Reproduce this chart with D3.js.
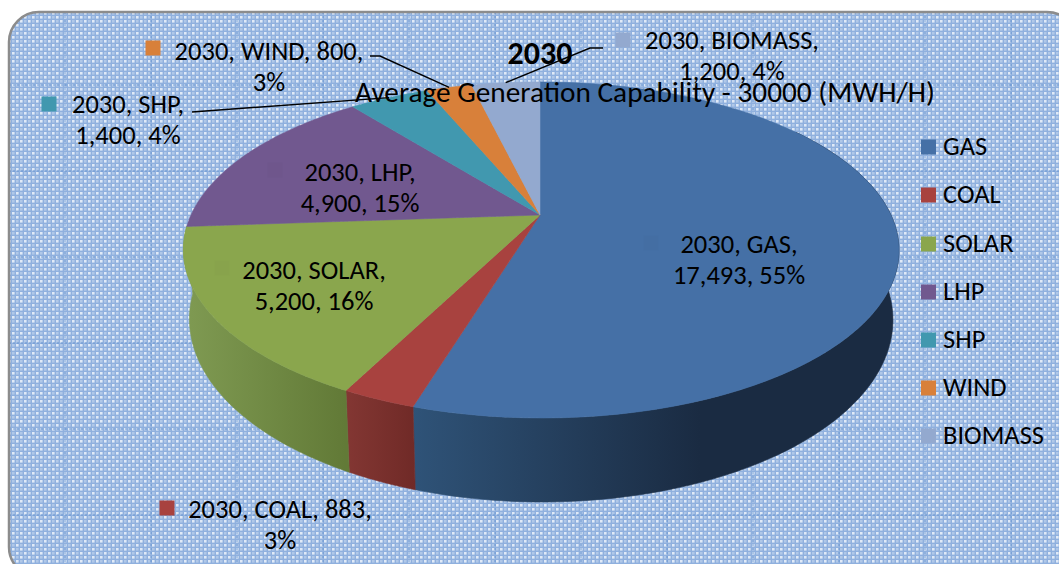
<!DOCTYPE html>
<html><head><meta charset="utf-8">
<style>html,body{margin:0;padding:0;background:#fff;overflow:hidden}svg{display:block}text{font-family:Carlito,Lato,sans-serif;fill:#000}</style>
<script src="https://cdn.jsdelivr.net/npm/d3@7/dist/d3.min.js"></script></head><body>
<svg id="c" width="1059" height="564"></svg>
<script>
const year = 2030;
const categories = ["GAS","COAL","SOLAR","LHP","SHP","WIND","BIOMASS"];
const values = [17493,883,5200,4900,1400,800,1200];
const colors = ["#4570A6","#A8423F","#8AA64D","#71588F","#4198AF","#D8803A","#93A9CF"];
const subtitle = "Average Generation Capability - 30000 (MWH/H)";
// how many label parts (of name/value/percent) sit on the first line
const firstLine = [2,3,2,2,2,3,2];
const labelBoxes = [[739,253],[280,518],[314,279],[360,181],[128,113],[269,60],[732,49]];
const keyBoxes = [[651,243],[167,508],[222,268],[275,170],[49,104],[153,48],[623,40]];
const legendRows = [147,195,244,292,340,388,436];

const svg = d3.select("#c"), defs = svg.append("defs");
const fmt = d3.format(","), total = d3.sum(values);
const order = d3.scaleOrdinal(categories, colors);

// backdrop
const dots = defs.append("pattern").attr("id","dots").attr("width",8).attr("height",8)
  .attr("patternUnits","userSpaceOnUse");
dots.append("rect").attr("width",8).attr("height",8).attr("fill","#8FB0DE");
[[0,0,"#E0EAF7"],[4,4,"#E0EAF7"],[4,0,"#B0C8E8"],[0,4,"#B0C8E8"]].forEach(([x,y,f])=>
  dots.append("rect").attr("x",x).attr("y",y).attr("width",2.6).attr("height",2.6).attr("fill",f));
const frame = {x:9,y:12,w:1068,h:565,r:30};
svg.append("rect").attr("x",frame.x).attr("y",frame.y).attr("width",frame.w).attr("height",frame.h)
  .attr("rx",frame.r).attr("fill","url(#dots)");
const clip = defs.append("clipPath").attr("id","fr");
clip.append("rect").attr("x",frame.x).attr("y",frame.y).attr("width",frame.w).attr("height",frame.h).attr("rx",frame.r);
const grid = svg.append("g").attr("clip-path","url(#fr)");
d3.range(65,1059,86).forEach(x=>grid.append("line").attr("x1",x).attr("x2",x).attr("y1",12).attr("y2",564)
  .attr("stroke","#5E90D0").attr("stroke-opacity",.55).attr("stroke-width",1.5).attr("stroke-dasharray","2 2"));
d3.range(85,564,86).forEach(y=>grid.append("line").attr("y1",y).attr("y2",y).attr("x1",9).attr("x2",1059)
  .attr("stroke","#5E90D0").attr("stroke-opacity",.55).attr("stroke-width",1.5).attr("stroke-dasharray","2 2"));
svg.append("rect").attr("x",frame.x).attr("y",frame.y).attr("width",frame.w).attr("height",frame.h)
  .attr("rx",frame.r).attr("fill","none").attr("stroke","#8C8C8C").attr("stroke-width",2.5);

// perspective projection of the pie disc
const apex = {x:540,y:215}, P = 0.208, A = 350, B = 160.8, D = 66.5, SHR = 0.983, NUDGE = 1, WARP = 0.4*Math.PI/180;
const warp = t => t - WARP*Math.sin(t/2);
const project = t0 => { const t=warp(t0), u=Math.sin(t), v=-Math.cos(t), k=1-P*v;
  return [apex.x+A*u/k+NUDGE*(1+v), apex.y+B*v/k]; };
const projectBase = t0 => { const t=warp(t0), u=Math.sin(t), v=-Math.cos(t), k=1-P*v;
  return [apex.x+SHR*A*u/k+NUDGE*(1+v), apex.y+(B*v+D)/k]; };
const arcs = d3.pie().sort(null).value(d=>d)(values);
const samples = (a,b) => d3.range(0,81).map(i=>a+(b-a)*i/80);
const line = d3.line();

// side wall
const rad = d=>d*Math.PI/180;
const sides = [
  {i:0,from:rad(55),stops:[[412,"#2F5378"],[700,"#1A2B42"]]},
  {i:1,from:null,stops:[[345,"#833733"],[415,"#702A27"]]},
  {i:2,from:null,stops:[[186,"#7F9A52"],[345,"#627A37"]]}
];
sides.forEach(s=>{
  const a=arcs[s.i], t0=s.from===null?a.startAngle:s.from, ts=samples(t0,a.endAngle);
  const g=defs.append("linearGradient").attr("id","side"+s.i).attr("gradientUnits","userSpaceOnUse")
    .attr("x1",s.stops[0][0]).attr("x2",s.stops[1][0]).attr("y1",0).attr("y2",0);
  s.stops.forEach((st,j)=>g.append("stop").attr("offset",j).attr("stop-color",st[1]));
  svg.append("path").attr("d",line(ts.map(t=>project(t)).concat(ts.slice().reverse().map(projectBase)))+"Z")
    .attr("fill",`url(#side${s.i})`).attr("stroke",`url(#side${s.i})`).attr("stroke-width",.6);
});

// top face
svg.append("g").selectAll("path").data(arcs).join("path")
  .attr("d",a=>line([[apex.x,apex.y]].concat(samples(a.startAngle,a.endAngle).map(t=>project(t))))+"Z")
  .attr("fill",(a,i)=>order(categories[i])).attr("stroke",(a,i)=>order(categories[i])).attr("stroke-width",.5);

// key squares beside labels
const key = (x,y,f)=>svg.append("rect").attr("x",x-7.5).attr("y",y-7.5).attr("width",15).attr("height",15).attr("fill",f);
categories.forEach((c,i)=>{
  const f = (i===0||i===2||i===3) ? d3.color(order(c)).darker(.05).formatHex() : order(c);
  key(keyBoxes[i][0],keyBoxes[i][1],f);
});

// title
svg.append("text").attr("x",540).attr("y",64).attr("text-anchor","middle")
  .attr("font-size",32).attr("font-weight",700).text(year);
svg.append("text").attr("x",645).attr("y",102).attr("text-anchor","middle")
  .attr("font-size",29.3).text(subtitle);

// leader lines, anchored on slice mid-angles
const mid = a=>(a.startAngle+a.endAngle)/2;
const leaders = [[4,[192,112],null],[5,[370,56],[380,56]],[6,[603,48],[590,48]]];
leaders.forEach(([i,p0,p1])=>{
  const pts=[p0]; if(p1) pts.push(p1); pts.push(project(mid(arcs[i])));
  svg.append("path").attr("d",line(pts)).attr("fill","none").attr("stroke","#000").attr("stroke-width",1.4);
});

// data labels
categories.forEach((c,i)=>{
  const parts=[`${year}`,c,fmt(values[i]),d3.format(".0%")(values[i]/total)];
  const n=firstLine[i]; 
  const l1=parts.slice(0,n).join(", ")+",", l2=parts.slice(n).join(", ");
  const t=svg.append("text").attr("text-anchor","middle").attr("font-size",26.5);
  t.append("tspan").attr("x",labelBoxes[i][0]).attr("y",labelBoxes[i][1]).text(l1);
  t.append("tspan").attr("x",labelBoxes[i][0]).attr("y",labelBoxes[i][1]+31).text(l2);
});

// legend
categories.forEach((c,i)=>{
  key(928.5,legendRows[i],order(c));
  svg.append("text").attr("x",943).attr("y",legendRows[i]+8).attr("font-size",26.5).text(c);
});
</script></body></html>
